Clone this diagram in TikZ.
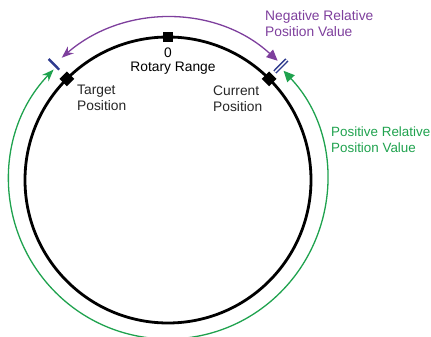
\documentclass[tikz,border=0pt]{standalone}
\usepackage{fontspec}
\setmainfont{Liberation Sans}
\usetikzlibrary{positioning, arrows.meta}
\definecolor{negstroke}{HTML}{7E3F9D}
\definecolor{posstroke}{HTML}{1FA24E}
\definecolor{tickstroke}{HTML}{2E3A8E}
\definecolor{labeltext}{HTML}{262626}

\begin{document}
\begin{tikzpicture}[
          x=1pt, y=1pt,
          % 1. Marcas sobre el círculo
          marker/.style={
              rectangle,
              fill=black,
              inner sep=0pt,
              minimum size=10.5pt
          },
          % 2. Textos
          label/.style={
              inner sep=0pt,
              align=left,
              font=\fontsize{13.8}{16}\selectfont
          },
          % 3. Arcos de posición relativa
          negarc/.style={draw=negstroke, line width=1.3pt, {Triangle[length=11pt,width=10pt]}-{Stealth[length=12pt,width=9pt]}},
          posarc/.style={draw=posstroke, line width=1.3pt, {Triangle[length=11pt,width=10pt]}-{Stealth[length=12pt,width=9pt]}},
          tick/.style={draw=tickstroke, line width=2.4pt},
          dtick/.style={draw=tickstroke, line width=1.5pt, double=white, double distance=1.4pt}
      ]
      \useasboundingbox (-168,-157) rectangle (263,180);

      % === CÍRCULO DEL RANGO ===
      \draw[line width=2.8pt] (0,0) circle[radius=143pt];

      % Cero
      \node[marker] (zero) at (90:143) {};
      % Posición actual
      \node[marker, rotate=45] (actual) at (45:143) {};
      % Posición objetivo
      \node[marker, rotate=-45] (objetivo) at (135:143) {};

      % === TEXTOS ===
      \node[label, anchor=base] (zerotxt) at (0,122) {0};
      \node[label, anchor=base] (rangotxt) at (5,108) {Rotary Range};
      \node[label, anchor=north west, text=labeltext] (objtxt) at (-91,95) {Target\\Position};
      \node[label, anchor=north west, text=labeltext] (acttxt) at (45,94) {Current\\Position};
      \node[label, anchor=north west, text=negstroke] (negtxt) at (97,170) {Negative Relative\\Position Value};
      \node[label, anchor=north west, text=posstroke, font=\fontsize{13.4}{16}\selectfont] (postxt) at (163,53) {Positive Relative\\Position Value};

      % === MARCAS DE INICIO Y FIN ===
      \draw[tick] (134.6:155) -- (134.6:170);
      \draw[dtick] (45.3:152) -- (45.3:169);

      % === ARCOS ===
      \coordinate (negini) at (47.4:162);
      \draw[negarc] (negini) arc[start angle=47.4, end angle=131, radius=162pt];

      \coordinate (posini) at (43.4:159);
      \draw[posarc] (posini) arc[start angle=43.4, end angle=-224, radius=159pt];

      \end{tikzpicture}
\end{document}
